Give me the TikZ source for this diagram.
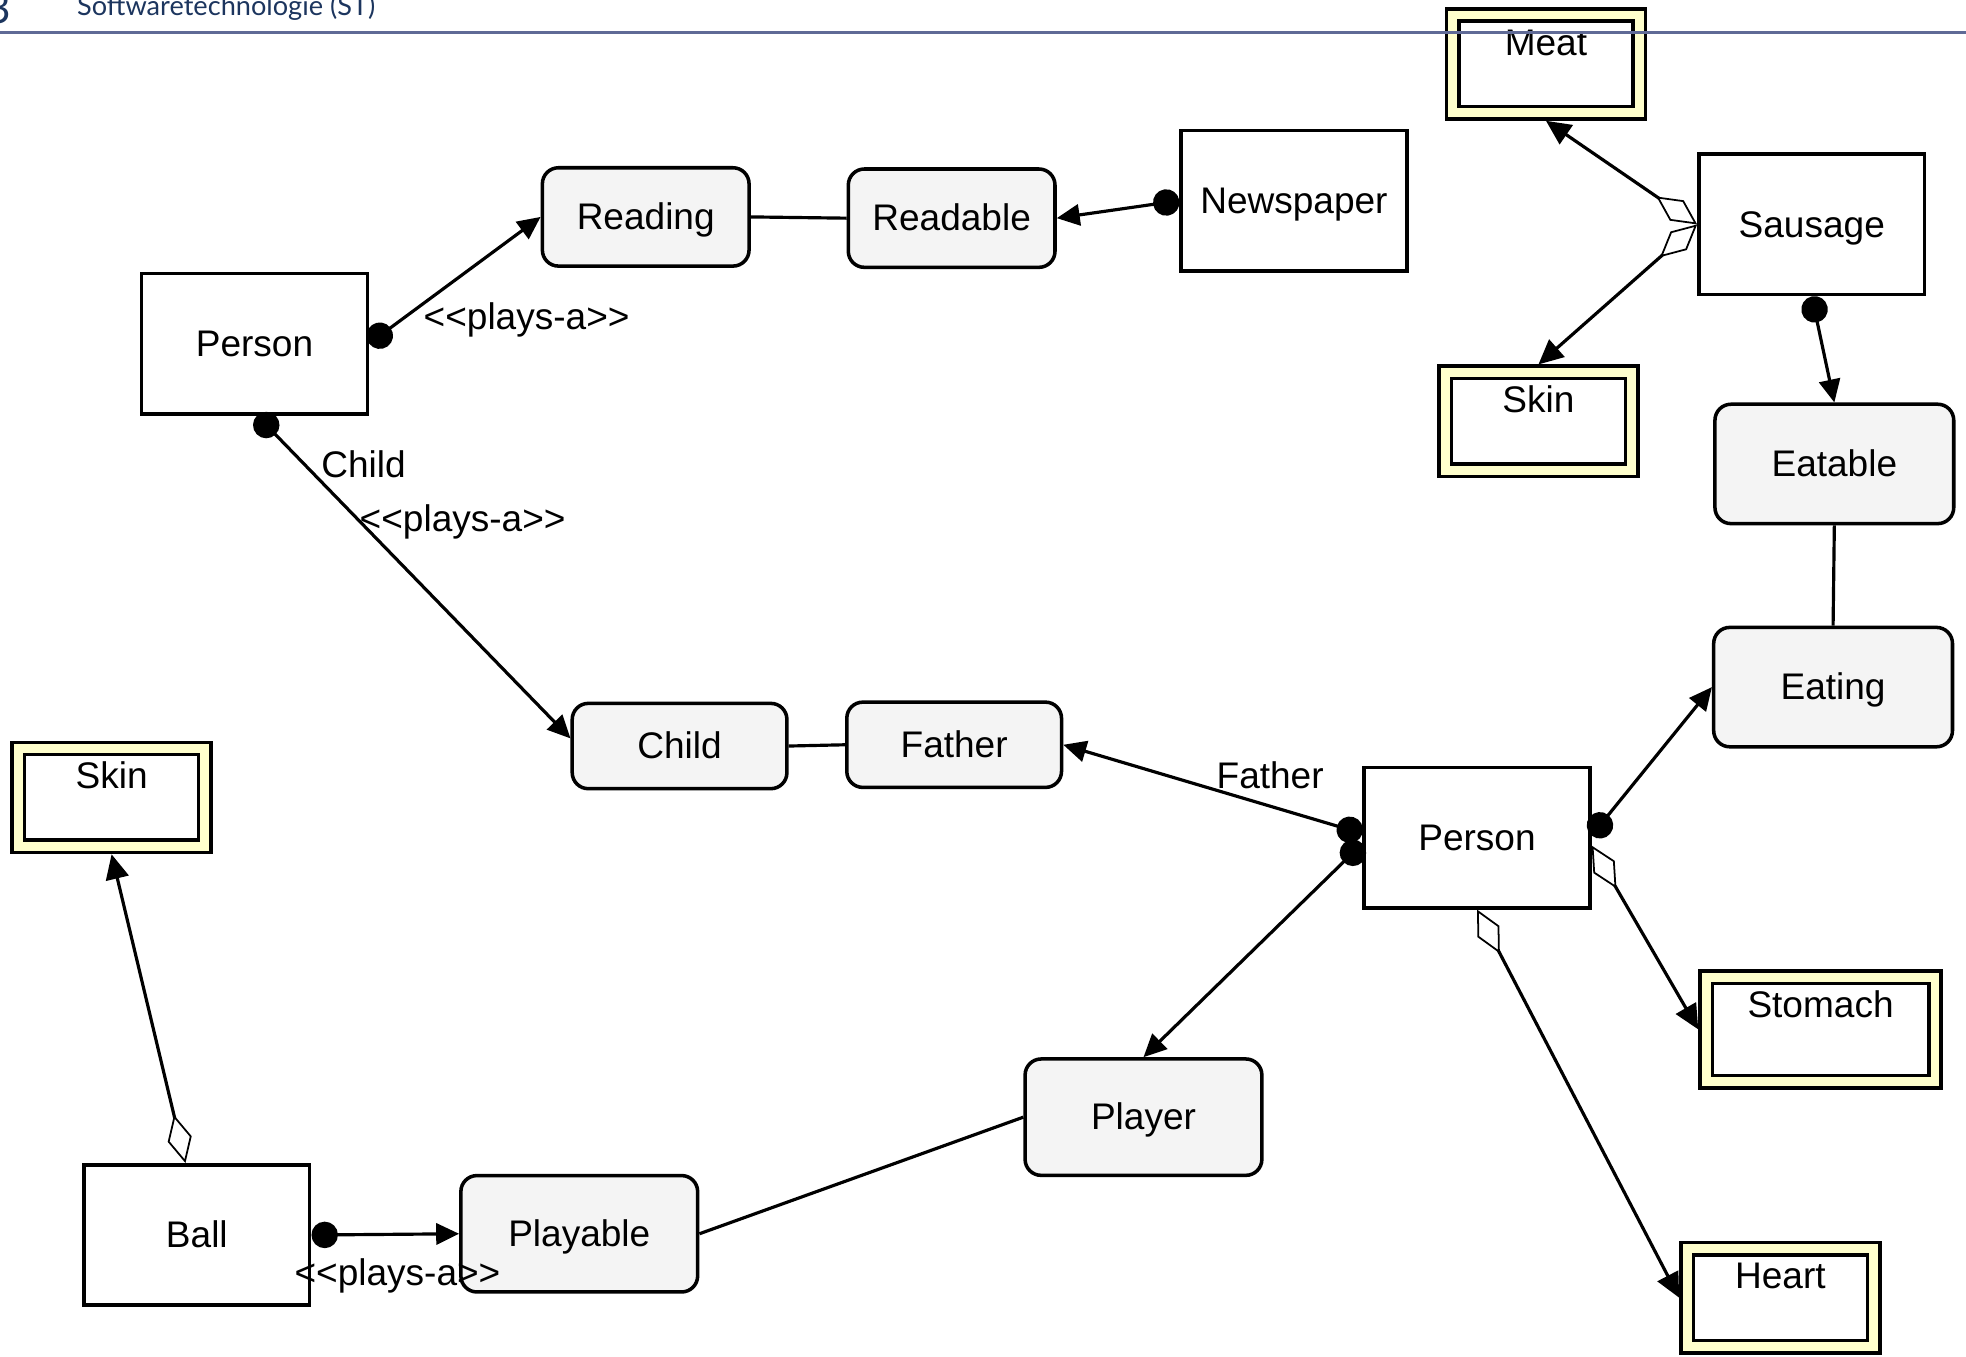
\documentclass[tikz,border=0pt]{standalone}
\usepackage{fontspec}
\setmainfont{Liberation Sans}
\newfontfamily\headfont{Lato}
\usetikzlibrary{arrows.meta}
\definecolor{rolegray}{HTML}{F4F4F4}
\definecolor{partyellow}{HTML}{FFFFCC}
\definecolor{headblue}{HTML}{5F6A96}
\definecolor{headtext}{HTML}{1C355E}

\begin{document}
\begin{tikzpicture}[x=0.0125cm, y=-0.0125cm, font=\fontsize{10.5}{12.6}\selectfont,
  main/.style = {draw, line width=1pt, minimum width=2.25cm, minimum height=1.4cm, text height=0.72em, text depth=0pt},
  role/.style = {draw, line width=1pt, rounded corners=0.16cm, fill=rolegray, text height=0.72em, text depth=0pt},
  part/.style = {draw, line width=1pt, double=partyellow, double distance=2.5pt, fill=white, inner sep=0pt, outer sep=2.25pt, minimum width=1.86cm, text height=0.4cm, text depth=0.575cm},
  plays/.style = {line width=0.9pt, {Circle[length=7.5pt]}-{Triangle[length=6.5pt,width=6pt]}},
  owns/.style = {line width=0.9pt, {Diamond[length=14pt,width=7pt,fill=white,line width=0.5pt]}-{Triangle[length=7pt,width=6.5pt]}},
  link/.style = {line width=0.9pt}]
\useasboundingbox (0,0) rectangle (1568,1082);

\node[main] (1) at (203,274) {Person};
\node[role, minimum width=2.06cm, minimum height=0.98cm] (2) at (515,173) {Reading};
\node[role, minimum width=2.06cm, minimum height=0.98cm] (3) at (759,174) {Readable};
\node[main] (4) at (1032,160) {Newspaper};
\node[part] (5) at (1233,51) {Meat};
\node[main] (6) at (1445,179) {Sausage};
\node[part] (7) at (1227,336) {Skin};
\node[role, minimum width=2.38cm, minimum height=1.19cm] (8) at (1463,370) {Eatable};
\node[role, minimum width=2.38cm, minimum height=1.19cm] (9) at (1462,548) {Eating};
\node[role, minimum width=2.14cm, minimum height=0.85cm] (10) at (542,595) {Child};
\node[role, minimum width=2.14cm, minimum height=0.85cm] (11) at (761,594) {Father};
\node[main] (12) at (1178,668) {Person};
\node[part, minimum width=2.28cm, text depth=0.64cm] (13) at (1452,821) {Stomach};
\node[part] (14) at (1420,1035) {Heart};
\node[part] (15) at (89,636) {Skin};
\node[main] (16) at (157,985) {Ball};
\node[role, minimum width=2.36cm, minimum height=1.16cm] (17) at (462,984) {Playable};
\node[role, minimum width=2.36cm, minimum height=1.16cm] (18) at (912,891) {Player};

% roles
\draw[plays] (1.east) -- (2.west);
\draw[link] (2.east) -- (3.west);
\draw[plays] (4.west) -- (3.east);
\draw[plays] (6.south) -- (8.north);
\draw[link] (8.south) -- (9.north);
\draw[plays] (1.-88) -- (10.176);
\draw[link] (10.east) -- (11.west);
\draw[plays] (12.178) -- (11.east);
\draw[plays] (12.183) -- (18.north);
\draw[plays] (12.1) -- (9.west);
\draw[plays] (16.east) -- (17.west);
\draw[link] (17.east) -- (18.west);

% parts
\draw[owns] (6.west) -- (5.south);
\draw[owns] (6.west) -- (7.north);
\draw[owns] (12.-4) -- (13.west);
\draw[owns] (12.south) -- (14.west);
\draw[owns] (16.99) -- (15.south);

\node (19) at (420,255) {<\kern0pt<plays-a>\kern0pt>};
\node (20) at (290,370) {Child};
\node (21) at (369,416) {<\kern0pt<plays-a>\kern0pt>};
\node (22) at (1013,618) {Father};
\node (23) at (317,1018) {<\kern0pt<plays-a>\kern0pt>};

\node[anchor=base east, inner sep=0pt, text=headtext, font=\headfont\fontsize{12}{14}\selectfont] (24) at (9,19) {3};
\node[anchor=base west, inner sep=0pt, text=headtext, font=\headfont\fontsize{7.7}{9}\selectfont] (25) at (61,12.5) {Softwaretechnologie (ST)};
\draw[headblue, line width=0.85pt] (0,26) -- (1568,26);
\end{tikzpicture}
\end{document}
